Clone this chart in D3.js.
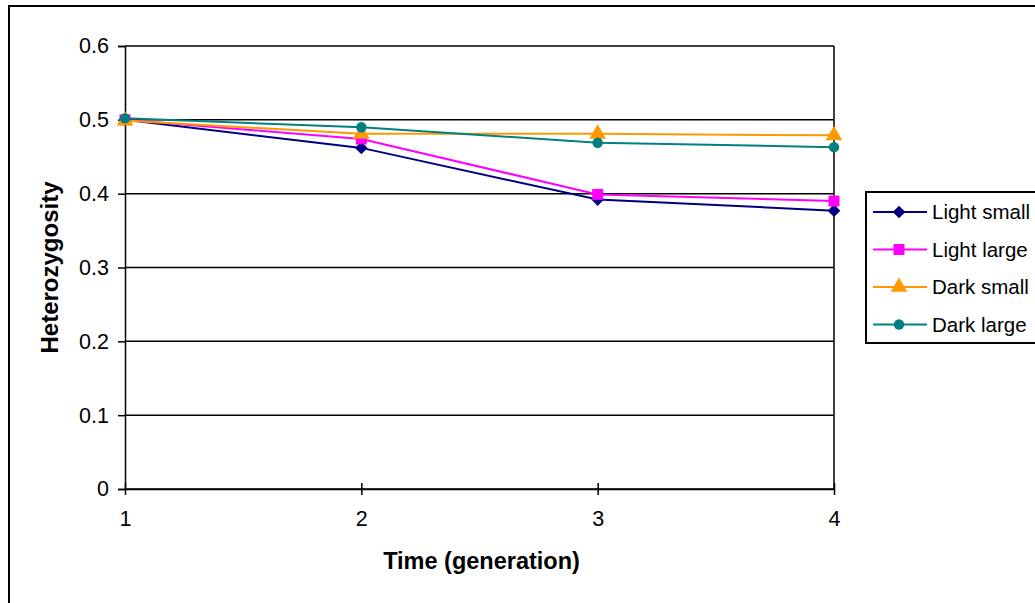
<!DOCTYPE html>
<html lang="en">
<head>
    <meta charset="UTF-8">
    <title>Heterozygosity over time</title>
    <script src="https://d3js.org/d3.v7.min.js"></script>
    <style>
        body, html {
            margin: 0;
            padding: 0;
            overflow: hidden;
            background: #fff;
        }
        svg {
            display: block;
            font-family: Arial, "Liberation Sans", sans-serif;
        }
    </style>
</head>
<body>
    <svg width="1035" height="603"></svg>

    <script>
        // data
        const generations = [1, 2, 3, 4];
        const lightSmall = [0.500, 0.462, 0.392, 0.377];
        const lightLarge = [0.500, 0.474, 0.399, 0.390];
        const darkSmall  = [0.499, 0.481, 0.481, 0.479];
        const darkLarge  = [0.502, 0.490, 0.469, 0.463];
        const yTicks = [0, 0.1, 0.2, 0.3, 0.4, 0.5, 0.6];

        // wide diamond like the spreadsheet marker (a square turned 45 degrees)
        const wideDiamond = {
            draw(ctx, size) {
                const r = Math.sqrt(size / 2);
                ctx.moveTo(0, -r);
                ctx.lineTo(r, 0);
                ctx.lineTo(0, r);
                ctx.lineTo(-r, 0);
                ctx.closePath();
            }
        };

        const series = [
            { name: "Light small", values: lightSmall, color: "#000080", shape: wideDiamond, size: 80 },
            { name: "Light large", values: lightLarge, color: "#ff00ff", shape: d3.symbolSquare, size: 120 },
            { name: "Dark small",  values: darkSmall,  color: "#ff9900", shape: d3.symbolTriangle, size: 120 },
            { name: "Dark large",  values: darkLarge,  color: "#008080", shape: d3.symbolCircle, size: 85 }
        ];

        const svg = d3.select("svg");

        // outer chart frame
        svg.append("rect")
            .attr("x", 9).attr("y", 6)
            .attr("width", 1040).attr("height", 610)
            .attr("fill", "none").attr("stroke", "#000").attr("stroke-width", 2);

        const x = d3.scaleLinear().domain([1, 4]).range([125, 834]);
        const y = d3.scaleLinear().domain([0, 0.6]).range([489, 46]);

        // horizontal gridlines
        svg.append("g")
            .selectAll("line")
            .data(yTicks)
            .enter().append("line")
            .attr("x1", x(1)).attr("x2", x(4))
            .attr("y1", d => y(d)).attr("y2", d => y(d))
            .attr("stroke", "#000").attr("stroke-width", 1.5);

        // right border of plot area
        svg.append("line")
            .attr("x1", x(4)).attr("x2", x(4))
            .attr("y1", y(0.6)).attr("y2", y(0))
            .attr("stroke", "#000").attr("stroke-width", 1.5);

        // y axis
        const yAxis = svg.append("g")
            .attr("transform", `translate(${x(1)},0)`)
            .call(d3.axisLeft(y).tickValues(yTicks).tickFormat(d => d === 0 ? "0" : d3.format(".1f")(d)).tickSize(7).tickPadding(9));
        yAxis.select(".domain").attr("stroke-width", 1.5);
        yAxis.selectAll(".tick line").attr("stroke-width", 1.5);
        yAxis.selectAll("text")
            .attr("font-size", 21.5).attr("fill", "#000")
            .attr("font-family", "Arial, 'Liberation Sans', sans-serif");

        // x axis, ticks cross the axis line
        const xAxis = svg.append("g")
            .attr("transform", `translate(0,${y(0)})`)
            .call(d3.axisBottom(x).tickValues(generations).tickFormat(d3.format("d")).tickSizeInner(6).tickSizeOuter(0).tickPadding(16));
        xAxis.select(".domain").attr("stroke-width", 1.5);
        xAxis.selectAll(".tick line").attr("y1", -6).attr("stroke-width", 1.5);
        xAxis.selectAll("text")
            .attr("font-size", 21.5).attr("fill", "#000")
            .attr("font-family", "Arial, 'Liberation Sans', sans-serif");

        // axis titles
        svg.append("text")
            .attr("transform", `translate(58,${(y(0) + y(0.6)) / 2}) rotate(-90)`)
            .attr("text-anchor", "middle")
            .attr("font-size", 24).attr("font-weight", "bold")
            .text("Heterozygosity");

        svg.append("text")
            .attr("x", (x(1) + x(4)) / 2 + 2).attr("y", 569)
            .attr("text-anchor", "middle")
            .attr("font-size", 23.5).attr("font-weight", "bold")
            .text("Time (generation)");

        // lines and markers
        const line = d3.line()
            .x((d, i) => x(generations[i]))
            .y(d => y(d));

        series.forEach(s => {
            svg.append("path")
                .datum(s.values)
                .attr("d", line)
                .attr("fill", "none")
                .attr("stroke", s.color)
                .attr("stroke-width", 2);
        });
        series.forEach(s => {
            svg.append("g")
                .selectAll("path")
                .data(s.values)
                .enter().append("path")
                .attr("transform", (d, i) => `translate(${x(generations[i])},${y(d)})`)
                .attr("d", d3.symbol().type(s.shape).size(s.size))
                .attr("fill", s.color);
        });

        // legend
        const legend = svg.append("g").attr("transform", "translate(866,192)");
        legend.append("rect")
            .attr("width", 180).attr("height", 151)
            .attr("fill", "#fff").attr("stroke", "#000").attr("stroke-width", 2);

        const rows = legend.selectAll("g.row")
            .data(series)
            .enter().append("g")
            .attr("class", "row")
            .attr("transform", (d, i) => `translate(0,${20 + i * 37.5})`);
        rows.append("line")
            .attr("x1", 7).attr("x2", 61)
            .attr("stroke", d => d.color).attr("stroke-width", 2);
        rows.append("path")
            .attr("transform", "translate(33,0)")
            .attr("d", d => d3.symbol().type(d.shape).size(d.size)())
            .attr("fill", d => d.color);
        rows.append("text")
            .attr("x", 66).attr("dy", "0.35em")
            .attr("font-size", 20.5)
            .text(d => d.name);
    </script>
</body>
</html>
